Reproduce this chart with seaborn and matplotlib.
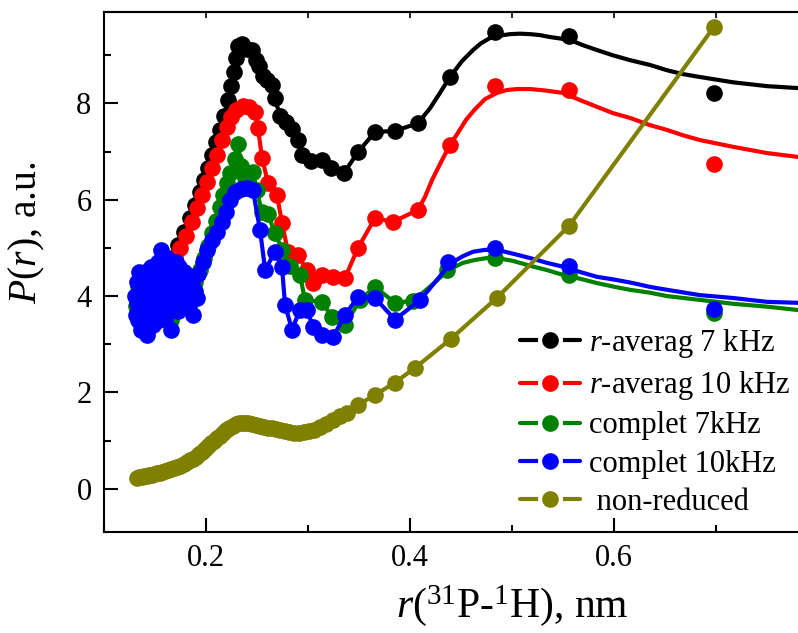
import numpy as np
import pandas as pd
import matplotlib
matplotlib.use("Agg")
import matplotlib.pyplot as plt
from matplotlib.lines import Line2D
from matplotlib.ticker import MultipleLocator
import seaborn as sns

# ---------------- data: r (nm) and P(r) (a.u.) ----------------
# r-averaged distribution, 7 kHz
ravg7_r = [0.135, 0.141, 0.147, 0.153, 0.159, 0.1667, 0.1725, 0.1784, 0.1843, 0.1892,
           0.1941, 0.198, 0.202, 0.206, 0.210, 0.2137, 0.2176, 0.2216, 0.2245, 0.2275,
           0.2294, 0.2314, 0.2353, 0.2402, 0.2451, 0.249, 0.252, 0.2559, 0.2598, 0.2647,
           0.2676, 0.2725, 0.2784, 0.2843, 0.2902, 0.2941, 0.3029, 0.3137, 0.3225, 0.3353,
           0.349, 0.3657, 0.3853, 0.4078, 0.4392, 0.4833, 0.5559, 0.698]
ravg7_p = [4.1, 4.5, 4.0, 4.6, 4.3, 4.79, 5.06, 5.33, 5.62, 5.89,
           6.16, 6.41, 6.66, 6.93, 7.20, 7.45, 7.74, 8.07, 8.36, 8.65,
           8.94, 9.19, 9.23, 9.13, 9.11, 8.90, 8.78, 8.57, 8.49, 8.38,
           8.11, 7.74, 7.61, 7.47, 7.24, 6.93, 6.80, 6.83, 6.66, 6.56,
           6.99, 7.41, 7.43, 7.59, 8.55, 9.48, 9.40, 8.22]
# smooth model curve beyond 0.41 nm
ravg7_fit_r = [0.4078, 0.4196, 0.4294, 0.4392, 0.451, 0.4618, 0.4696, 0.4784, 0.4882,
               0.498, 0.5078, 0.5176, 0.5275, 0.5373, 0.5471, 0.5569, 0.5696, 0.5833,
               0.599, 0.6157, 0.6353, 0.652, 0.6676, 0.6843, 0.7167, 0.75, 0.7804]
ravg7_fit_p = [7.59, 7.90, 8.22, 8.55, 8.88, 9.11, 9.25, 9.36, 9.41,
               9.44, 9.45, 9.44, 9.42, 9.38, 9.35, 9.32, 9.21, 9.11,
               9.00, 8.90, 8.80, 8.69, 8.61, 8.55, 8.44, 8.36, 8.32]

# r-averaged distribution, 10 kHz
ravg10_r = [0.133, 0.138, 0.143, 0.148, 0.153, 0.158, 0.163, 0.1696, 0.1745, 0.1804,
            0.1863, 0.1912, 0.1961, 0.201, 0.2059, 0.2108, 0.2157, 0.2206, 0.2245, 0.2294,
            0.2363, 0.2422, 0.248, 0.251, 0.2549, 0.2608, 0.2696, 0.2745, 0.2804, 0.2902,
            0.299, 0.3049, 0.3137, 0.3245, 0.3363, 0.349, 0.3657, 0.3833, 0.4078, 0.4392,
            0.4833, 0.5559, 0.698]
ravg10_p = [4.0, 4.4, 3.8, 4.5, 4.1, 4.6, 4.3, 4.79, 5.00, 5.25,
            5.54, 5.83, 6.10, 6.37, 6.66, 6.93, 7.24, 7.51, 7.72, 7.86,
            7.95, 7.93, 7.82, 7.49, 6.87, 6.35, 6.10, 5.52, 4.92, 4.85,
            4.54, 4.27, 4.44, 4.40, 4.38, 5.00, 5.62, 5.54, 5.79, 7.14,
            8.36, 8.28, 6.74]
ravg10_fit_r = [0.4078, 0.4147, 0.4216, 0.4294, 0.4392, 0.447, 0.4549, 0.4637, 0.4735,
                0.4853, 0.4951, 0.5049, 0.5176, 0.5324, 0.55, 0.5667, 0.5833, 0.599,
                0.6157, 0.6353, 0.652, 0.6676, 0.6843, 0.7167, 0.75, 0.7804]
ravg10_fit_p = [5.79, 6.06, 6.41, 6.74, 7.14, 7.39, 7.66, 7.88, 8.09,
                8.22, 8.28, 8.30, 8.30, 8.27, 8.22, 8.07, 7.93, 7.80,
                7.70, 7.55, 7.45, 7.34, 7.24, 7.10, 6.97, 6.89]

# complete distribution, 7 kHz
comp7_r = [0.131, 0.1335, 0.136, 0.1385, 0.141, 0.1435, 0.146, 0.1485, 0.151, 0.1535,
           0.156, 0.1585, 0.161, 0.1635, 0.166, 0.1685, 0.171, 0.1735, 0.176, 0.1785,
           0.181, 0.1835, 0.186, 0.189,
           0.194, 0.198, 0.202, 0.206, 0.2095, 0.2135, 0.217, 0.2205, 0.224, 0.228,
           0.2314, 0.2345, 0.238, 0.242, 0.246, 0.250, 0.2545, 0.2608, 0.2676, 0.275,
           0.2824, 0.2922, 0.297, 0.3137, 0.3235, 0.3363, 0.351, 0.3657, 0.3853, 0.403,
           0.4363, 0.4833, 0.5559, 0.698]
comp7_p = [3.8, 4.2, 3.4, 4.0, 3.6, 4.4, 3.5, 4.1, 3.9, 4.6,
           3.7, 4.4, 3.8, 4.7, 3.5, 4.3, 4.0, 4.6, 4.2, 4.5,
           3.95, 4.35, 4.0, 4.3,
           4.55, 4.80, 5.05, 5.30, 5.55, 5.85, 6.10, 6.35, 6.55, 6.85,
           7.15, 6.70, 6.45, 6.50, 6.58, 6.20, 5.75, 5.70, 5.31, 4.95,
           4.62, 4.44, 3.92, 3.88, 3.57, 3.40, 3.92, 4.19, 3.86, 3.90,
           4.54, 4.79, 4.44, 3.65]
comp7_fit_r = [0.403, 0.4127, 0.4225, 0.4324, 0.4422, 0.452, 0.4637, 0.4755, 0.4853,
               0.501, 0.5176, 0.5343, 0.55, 0.5667, 0.5833, 0.601, 0.6157, 0.6353,
               0.652, 0.6843, 0.7167, 0.75, 0.7804]
comp7_fit_p = [3.90, 4.07, 4.25, 4.44, 4.59, 4.69, 4.75, 4.79, 4.79,
               4.73, 4.63, 4.54, 4.44, 4.36, 4.27, 4.19, 4.13, 4.07,
               4.00, 3.92, 3.84, 3.78, 3.71]

# complete distribution, 10 kHz
comp10_r = [0.1305, 0.131, 0.132, 0.1325, 0.1335, 0.134, 0.135, 0.136, 0.1368, 0.1375,
            0.139, 0.1398, 0.1405, 0.142, 0.1428, 0.1435, 0.145, 0.1458, 0.1465, 0.148,
            0.1488, 0.1495, 0.151, 0.1518, 0.1525, 0.154, 0.1548, 0.1555, 0.157, 0.1578,
            0.1585, 0.160, 0.1608, 0.1615, 0.163, 0.1638, 0.1645, 0.166, 0.1668, 0.1675,
            0.169, 0.1698, 0.1705, 0.172, 0.173, 0.174, 0.176, 0.178, 0.180, 0.182,
            0.184, 0.186, 0.187, 0.189, 0.191, 0.192,
            0.197, 0.201, 0.206, 0.211, 0.2157, 0.2196, 0.2235, 0.2284, 0.2343, 0.2402,
            0.246, 0.253, 0.258, 0.2676, 0.2745, 0.2775, 0.2843, 0.292, 0.299, 0.305,
            0.3137, 0.3245, 0.3363, 0.349, 0.3657, 0.3853, 0.4098, 0.4373, 0.4833, 0.5559,
            0.698]
comp10_p = [4.0, 3.6, 4.3, 3.85, 3.5, 4.5, 4.1, 3.3, 3.9, 4.4,
            3.7, 4.2, 4.5, 3.2, 3.8, 4.0, 3.6, 4.3, 4.6, 3.4,
            3.95, 4.2, 3.8, 4.45, 4.7, 3.5, 4.1, 4.95, 3.9, 4.65,
            4.5, 3.6, 4.2, 4.8, 3.9, 4.55, 4.4, 3.3, 4.0, 4.6,
            4.0, 4.35, 4.7, 4.2, 3.7, 4.6, 4.1, 4.5, 3.9, 4.4,
            3.85, 4.3, 3.6, 4.1, 3.95, 4.45,
            4.71, 4.96, 5.17, 5.33, 5.54, 5.75, 6.00, 6.16, 6.22, 6.24,
            6.20, 5.37, 4.54, 4.92, 4.61, 3.82, 3.30, 3.71, 3.71, 3.36,
            3.20, 3.15, 3.61, 3.98, 3.96, 3.51, 3.92, 4.71, 5.00, 4.63,
            3.73]
comp10_fit_r = [0.4098, 0.4176, 0.4265, 0.4343, 0.4422, 0.452, 0.4618, 0.4735, 0.4853,
                0.501, 0.5176, 0.5343, 0.55, 0.5667, 0.5833, 0.601, 0.6186, 0.6353,
                0.652, 0.6843, 0.7167, 0.75, 0.7804]
comp10_fit_p = [3.92, 4.11, 4.34, 4.54, 4.71, 4.83, 4.92, 4.96, 4.96,
                4.88, 4.79, 4.69, 4.61, 4.50, 4.40, 4.34, 4.27, 4.19,
                4.13, 4.02, 3.96, 3.88, 3.86]

# non-reduced distribution
nonred_r = [0.132, 0.1345, 0.137, 0.1395, 0.142, 0.1445, 0.147, 0.1495, 0.152, 0.1545,
            0.157, 0.160, 0.163, 0.166, 0.169, 0.172, 0.175, 0.178, 0.181, 0.184,
            0.187, 0.190, 0.193, 0.196, 0.199, 0.202, 0.205, 0.208, 0.211, 0.214,
            0.217, 0.220, 0.223, 0.226, 0.229, 0.232, 0.235, 0.238, 0.241, 0.245,
            0.249, 0.253, 0.257, 0.261, 0.265, 0.269, 0.273, 0.277, 0.281, 0.286,
            0.291, 0.296, 0.301, 0.306, 0.312, 0.318, 0.3245, 0.331, 0.338, 0.349,
            0.366, 0.385, 0.405, 0.440, 0.485, 0.556, 0.698]
nonred_p = [0.23, 0.24, 0.25, 0.26, 0.27, 0.28, 0.29, 0.30, 0.32, 0.33,
            0.35, 0.37, 0.39, 0.40, 0.42, 0.44, 0.47, 0.51, 0.55, 0.59,
            0.62, 0.66, 0.71, 0.77, 0.82, 0.88, 0.94, 0.99, 1.05, 1.10,
            1.16, 1.22, 1.27, 1.31, 1.34, 1.37, 1.37, 1.36, 1.36, 1.35,
            1.33, 1.31, 1.29, 1.27, 1.25, 1.23, 1.21, 1.19, 1.17, 1.16,
            1.16, 1.17, 1.19, 1.22, 1.28, 1.34, 1.43, 1.50, 1.58, 1.74,
            1.95, 2.20, 2.51, 3.11, 3.96, 5.46, 9.59]

labels = [r"$r$-averag 7 kHz", r"$r$-averag 10 kHz", "complet 7kHz",
          "complet 10kHz", " non-reduced"]
colors = ["#000000", "#ff0000", "#008000", "#0000ff", "#808000"]

# ---------------- styling ----------------
sns.set_theme(style="ticks")
plt.rcParams["font.family"] = ["Liberation Serif", "DejaVu Serif"]
plt.rcParams["mathtext.fontset"] = "custom"
plt.rcParams["mathtext.rm"] = "Liberation Serif"
plt.rcParams["mathtext.it"] = "Liberation Serif:italic"
plt.rcParams["text.color"] = "black"
plt.rcParams["axes.labelcolor"] = "black"

fig = plt.figure(figsize=(7.98, 6.33), dpi=100)
ax = fig.add_axes([104 / 798, 101 / 633, 694 / 798, 520 / 633])

LW = 3.0
MS = 12

series = [
    (ravg7_r, ravg7_p, ravg7_fit_r, ravg7_fit_p),
    (ravg10_r, ravg10_p, ravg10_fit_r, ravg10_fit_p),
    (comp7_r, comp7_p, comp7_fit_r, comp7_fit_p),
    (comp10_r, comp10_p, comp10_fit_r, comp10_fit_p),
]

for i, (r, p, fr, fp) in enumerate(series):
    # connecting line through the dense points, continued by the smooth model curve
    cut = fr[0]
    line_r = [v for v in r if v < cut] + list(fr)
    line_p = [pv for v, pv in zip(r, p) if v < cut] + list(fp)
    df_line = pd.DataFrame({"r": line_r, "P": line_p})
    sns.lineplot(data=df_line, x="r", y="P", ax=ax, color=colors[i], lw=LW,
                 sort=False, estimator=None, zorder=2 + 2 * i,
                 solid_joinstyle="round")
    df_pts = pd.DataFrame({"r": r, "P": p})
    sns.scatterplot(data=df_pts, x="r", y="P", ax=ax, color=colors[i], s=MS ** 2,
                    linewidth=0, zorder=3 + 2 * i)

df_nr = pd.DataFrame({"r": nonred_r, "P": nonred_p})
sns.lineplot(data=df_nr, x="r", y="P", ax=ax, color=colors[4], lw=LW,
             sort=False, estimator=None, zorder=11)
sns.scatterplot(data=df_nr, x="r", y="P", ax=ax, color=colors[4], s=MS ** 2,
                linewidth=0, zorder=12)

# ---------------- axes ----------------
ax.set_xlim(0.1, 0.7804)
ax.set_ylim(-0.9, 9.9)
ax.xaxis.set_major_locator(MultipleLocator(0.2))
ax.xaxis.set_minor_locator(MultipleLocator(0.1))
ax.yaxis.set_major_locator(MultipleLocator(2))
ax.yaxis.set_minor_locator(MultipleLocator(1))
ax.tick_params(which="major", direction="in", length=10, width=1.5,
               labelsize=22, pad=9, colors="black")
ax.tick_params(which="minor", direction="in", length=5, width=1.5, colors="black")
ax.tick_params(top=False, right=False)
for side in ["left", "bottom", "top"]:
    ax.spines[side].set_linewidth(1.5)
    ax.spines[side].set_color("black")
ax.spines["right"].set_visible(False)

top = ax.secondary_xaxis("top")
top.xaxis.set_major_locator(MultipleLocator(0.1))
top.tick_params(direction="in", length=4, width=1.2, labeltop=False, colors="black")
top.spines["top"].set_linewidth(1.5)

ax.set_xlabel(r"$r$($^{31}$P-$^{1}$H), nm", fontsize=30)
ax.xaxis.set_label_coords(0.589, -0.098)
ax.set_ylabel(r"$P$($r$), a.u.", fontsize=28.5)
ax.yaxis.set_label_coords(-0.082, 0.575)

handles = [Line2D([], [], color=c, lw=LW, marker="o", markersize=15,
                  markerfacecolor=c, markeredgecolor="white", markeredgewidth=3)
           for c in colors]
ax.legend(handles, labels, loc="upper left", bbox_to_anchor=(0.600, 0.394),
          frameon=False, fontsize=22, handlelength=1.95, handletextpad=0.3,
          labelspacing=0.3, borderpad=0, borderaxespad=0)

fig.savefig("out.png", dpi=100)
